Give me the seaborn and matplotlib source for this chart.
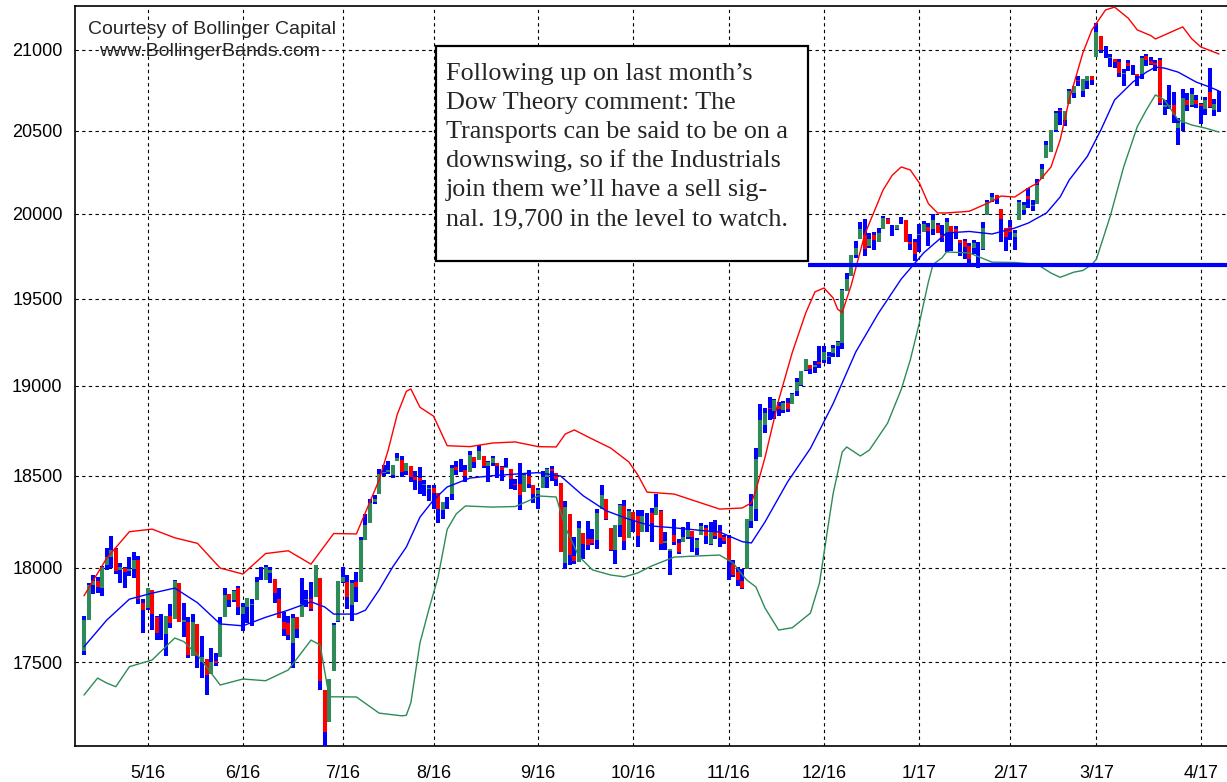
import numpy as np
import pandas as pd
import seaborn as sns
import matplotlib.pyplot as plt
from matplotlib.patches import Rectangle
from matplotlib.ticker import FixedLocator, NullLocator

# Dow Jones Industrials, daily bars 12 Apr 2016 - 7 Apr 2017 (trading day index)
opens = [17556, 17721, 17909, 17926, 17890, 18013, 18059, 18097, 17985, 17996, 17980, 17990, 18039, 17813,
         17783, 17878, 17735, 17665, 17647, 17743, 17726, 17919, 17712, 17711, 17531, 17701, 17501, 17514, 17437,
         17507, 17525, 17735, 17859, 17826, 17892,
         17754, 17790, 17799, 17826, 17937, 17931, 17969, 17938, 17830, 17711, 17703, 17602, 17734, 17736, 17828,
         17832, 17844, 17946, 17355, 17191, 17456, 17713,
         17924, 17925, 17800, 17924, 17925, 18150, 18242, 18353, 18396, 18512, 18517, 18503, 18582, 18583, 18524,
         18555, 18494, 18485, 18450, 18425,
         18434, 18405, 18312, 18355, 18400, 18549, 18530, 18533, 18522, 18602, 18586, 18608, 18554, 18568, 18567,
         18545, 18543, 18535, 18455, 18456, 18409, 18500, 18446,
         18397, 18432, 18492, 18536, 18516, 18458, 18026, 18287, 18061, 18029, 18186, 18152, 18152, 18150, 18317,
         18372, 18213, 18096, 18231, 18331, 18161,
         18300, 18280, 18193, 18270, 18295, 18282, 18308, 18133, 18088, 18177, 18132, 18135, 18164, 18195, 18106,
         18176, 18214, 18129, 18193, 18198, 18162,
         18160, 18018, 17978, 17928, 17994, 18252, 18317, 18604, 18781, 18876, 18858, 18889, 18862, 18905, 18898,
         18971, 19004, 19093, 19122, 19108, 19135,
         19150, 19163, 19187, 19230, 19247, 19545, 19632, 19757, 19853, 19876, 19811, 19874, 19835, 19911, 19969,
         19923, 19909, 19943, 19964, 19835, 19834,
         19872, 19891, 19924, 19907, 19931, 19877, 19887, 19927, 19907, 19846, 19839, 19811, 19796, 19795, 19794,
         19994, 20079, 20111, 20028, 19913,
         19923, 19861, 19964, 20025, 20108, 20049, 20061, 20211, 20338, 20374, 20504, 20627, 20564, 20663, 20731,
         20811, 20744, 20808, 20836,
         20957, 21089, 21009, 20950, 20943, 20927, 20849, 20921, 20884, 20853, 20852, 20965, 20930, 20918, 20936,
         20645, 20651, 20657, 20519, 20547, 20688, 20657, 20690,
         20665, 20633, 20740, 20626, 20658]
highs = [17744, 17918, 17961, 17951, 18009, 18103, 18168, 18107, 18026, 18001, 18058, 18084, 18064, 17830,
         17892, 17878, 17742, 17754, 17744, 17804, 17934, 17919, 17812, 17734, 17755, 17701, 17636, 17514, 17571,
         17550, 17734, 17891, 17860, 17881, 17900,
         17809, 17838, 17833, 17949, 18003, 18016, 18005, 17938, 17892, 17762, 17742, 17754, 17734, 17946, 17878,
         17920, 18011, 17946, 17355, 17412, 17704, 17930,
         18003, 17960, 17933, 17975, 18166, 18287, 18371, 18391, 18537, 18557, 18580, 18560, 18623, 18606, 18571,
         18555, 18525, 18547, 18475, 18446,
         18448, 18405, 18356, 18384, 18559, 18578, 18590, 18560, 18638, 18602, 18668, 18608, 18582, 18609, 18567,
         18551, 18597, 18535, 18482, 18569, 18514, 18533, 18447,
         18429, 18527, 18540, 18552, 18516, 18458, 18358, 18287, 18165, 18250, 18186, 18253, 18209, 18319, 18450,
         18372, 18213, 18229, 18345, 18364, 18319,
         18300, 18312, 18313, 18296, 18320, 18400, 18309, 18193, 18088, 18262, 18155, 18220, 18245, 18197, 18159,
         18241, 18228, 18247, 18254, 18232, 18176,
         18174, 18041, 18004, 17992, 18263, 18400, 18650, 18900, 18874, 18935, 18925, 18908, 18915, 18934, 18960,
         19043, 19084, 19153, 19122, 19144, 19226,
         19225, 19196, 19233, 19256, 19556, 19651, 19757, 19838, 19953, 19967, 19888, 19893, 19917, 19988, 19975,
         19934, 19935, 19981, 19964, 19878, 19852,
         19938, 19957, 19948, 19999, 19944, 19932, 19974, 19927, 19929, 19846, 19852, 19826, 19843, 19834, 19950,
         20082, 20125, 20115, 20028, 19913,
         19964, 19901, 20081, 20069, 20155, 20082, 20206, 20298, 20441, 20504, 20620, 20639, 20624, 20758, 20777,
         20841, 20822, 20838, 20836,
         21169, 21089, 21025, 20972, 20944, 20941, 20883, 20939, 20907, 20853, 20960, 20976, 20956, 20938, 20953,
         20690, 20780, 20737, 20580, 20755, 20734, 20766, 20721,
         20668, 20710, 20888, 20698, 20744]
lows = [17537, 17721, 17858, 17863, 17848, 17984, 17999, 17964, 17919, 17889, 17952, 17944, 17805, 17652,
        17773, 17668, 17613, 17617, 17531, 17676, 17726, 17711, 17633, 17521, 17531, 17469, 17418, 17331, 17437,
        17480, 17525, 17735, 17792, 17817, 17745,
        17664, 17703, 17689, 17826, 17935, 17931, 17915, 17812, 17731, 17635, 17615, 17471, 17624, 17736, 17787,
        17770, 17844, 17356, 17064, 17191, 17456, 17711,
        17916, 17780, 17713, 17816, 17925, 18150, 18242, 18342, 18396, 18495, 18507, 18484, 18582, 18491, 18504,
        18463, 18418, 18401, 18386, 18362,
        18315, 18238, 18264, 18316, 18367, 18501, 18519, 18467, 18522, 18543, 18586, 18542, 18465, 18555, 18489,
        18471, 18543, 18427, 18419, 18310, 18409, 18430, 18349,
        18314, 18432, 18429, 18469, 18441, 18085, 17993, 18016, 18018, 18027, 18045, 18096, 18119, 18102, 18317,
        18254, 18088, 18020, 18166, 18093, 18161,
        18193, 18109, 18193, 18193, 18136, 18282, 18095, 18093, 17960, 18121, 18072, 18135, 18152, 18086, 18067,
        18176, 18129, 18123, 18155, 18108, 18126,
        17932, 17950, 17901, 17884, 17994, 18211, 18252, 18604, 18735, 18808, 18815, 18832, 18845, 18855, 18898,
        18942, 18998, 19084, 19068, 19073, 19100,
        19130, 19124, 19162, 19167, 19209, 19545, 19632, 19741, 19853, 19749, 19800, 19788, 19834, 19911, 19941,
        19868, 19905, 19939, 19834, 19788, 19719,
        19775, 19891, 19811, 19876, 19887, 19835, 19775, 19777, 19853, 19753, 19732, 19697, 19759, 19677, 19787,
        19994, 20068, 20061, 19831, 19782,
        19843, 19785, 19964, 19999, 20037, 20016, 20061, 20211, 20338, 20374, 20496, 20535, 20532, 20663, 20704,
        20778, 20705, 20757, 20785,
        20957, 20981, 20947, 20891, 20886, 20834, 20778, 20870, 20844, 20777, 20821, 20903, 20908, 20868, 20656,
        20596, 20632, 20550, 20413, 20500, 20624, 20646, 20641,
        20545, 20599, 20641, 20593, 20618]
closes = [17721, 17908, 17926, 17897, 18004, 18054, 18096, 17983, 18004, 17977, 17990, 18042, 17831, 17774,
          17891, 17751, 17651, 17661, 17741, 17706, 17928, 17711, 17721, 17535, 17711, 17530, 17527, 17435, 17501,
          17493, 17706, 17852, 17828, 17873, 17787,
          17790, 17839, 17807, 17920, 17938, 18005, 17985, 17865, 17732, 17675, 17640, 17733, 17675, 17805, 17830,
          17781, 18011, 17401, 17140, 17410, 17695, 17930,
          17949, 17841, 17919, 17896, 18147, 18227, 18348, 18372, 18506, 18517, 18533, 18559, 18595, 18517, 18571,
          18493, 18474, 18472, 18456, 18432,
          18405, 18314, 18355, 18352, 18544, 18529, 18533, 18496, 18614, 18576, 18636, 18552, 18574, 18598, 18553,
          18529, 18547, 18481, 18448, 18395, 18503, 18454, 18401,
          18419, 18492, 18538, 18526, 18480, 18085, 18325, 18067, 18035, 18212, 18124, 18120, 18130, 18294, 18392,
          18261, 18095, 18228, 18339, 18143, 18308,
          18254, 18168, 18281, 18269, 18240, 18329, 18129, 18144, 18099, 18138, 18086, 18162, 18203, 18162, 18146,
          18223, 18169, 18199, 18170, 18161, 18142,
          18037, 17960, 17931, 17888, 18260, 18333, 18590, 18808, 18848, 18869, 18923, 18868, 18904, 18868, 18957,
          19024, 19083, 19152, 19098, 19122, 19124,
          19192, 19170, 19216, 19252, 19550, 19615, 19757, 19796, 19911, 19793, 19852, 19843, 19883, 19975, 19942,
          19919, 19934, 19945, 19834, 19820, 19763,
          19882, 19942, 19899, 19964, 19887, 19856, 19954, 19891, 19886, 19827, 19805, 19732, 19827, 19800, 19913,
          20069, 20101, 20094, 19971, 19864,
          19891, 19885, 20071, 20052, 20090, 20054, 20172, 20269, 20412, 20504, 20612, 20620, 20624, 20743, 20776,
          20810, 20822, 20837, 20812,
          21116, 21003, 21006, 20954, 20925, 20856, 20858, 20903, 20881, 20837, 20950, 20935, 20915, 20906, 20668,
          20661, 20657, 20597, 20551, 20702, 20659, 20728, 20663,
          20650, 20689, 20648, 20663, 20656]

# Bollinger bands (day index, value)
upper_day = [0, 5, 10, 15, 20, 25, 30, 35, 40, 45, 50, 55, 60, 65, 67, 69, 71, 72, 74, 77,
             80, 85, 90, 95, 100, 104, 106, 108, 111, 116, 120, 122, 124, 130, 135, 140, 145, 147, 148, 150,
             153, 156, 159, 161, 163, 165, 166, 167, 169, 172, 176, 178, 180, 182, 184, 186, 188, 190, 195, 200,
             202, 205, 208, 210, 213, 215, 217, 220, 222, 225, 227, 230, 232, 235, 236, 239, 242, 244, 246, 250]
upper_band = [17849, 18050, 18193, 18207, 18160, 18130, 17997, 17965, 18075, 18090,
              18018, 18183, 18181, 18475, 18641, 18840, 18970, 18983, 18880, 18830,
              18665, 18660, 18680, 18686, 18660, 18658, 18730, 18753, 18714, 18652,
              18575, 18503, 18409, 18398, 18357, 18316, 18322, 18350, 18420, 18600,
              18920, 19190, 19420, 19540, 19563, 19505, 19440, 19420, 19580, 19880,
              20142, 20230, 20281, 20263, 20184, 20060, 20005, 20005, 20015, 20075,
              20106, 20100, 20154, 20184, 20281, 20444, 20690, 20981, 21126, 21252,
              21270, 21200, 21126, 21090, 21069, 21107, 21145, 21070, 21019, 20975]
mid_day = [0, 5, 10, 15, 20, 25, 30, 35, 40, 45, 50, 53, 55, 60, 62, 65, 68, 71, 74, 77,
           80, 85, 90, 95, 100, 105, 110, 115, 120, 125, 130, 135, 140, 145, 147, 150, 155, 160, 165, 170,
           175, 180, 185, 190, 195, 200, 205, 208, 212, 215, 217, 221, 224, 227, 231, 234, 236, 238, 241, 245,
           248, 250]
mid_band = [17580, 17720, 17831, 17863, 17890, 17812, 17700, 17690, 17735, 17773,
            17817, 17790, 17752, 17752, 17773, 17880, 18003, 18110, 18272, 18366,
            18437, 18486, 18499, 18508, 18516, 18497, 18388, 18307, 18261, 18224,
            18214, 18202, 18191, 18139, 18132, 18246, 18466, 18650, 18900, 19194,
            19417, 19615, 19770, 19886, 19895, 19880, 19915, 19945, 20005, 20100,
            20202, 20345, 20507, 20690, 20800, 20862, 20893, 20887, 20862, 20800,
            20769, 20745]
lower_day = [0, 3, 5, 7, 10, 15, 20, 22, 25, 30, 35, 40, 45, 50, 52, 54, 55, 60, 65, 70,
             71, 72, 74, 76, 78, 80, 82, 84, 90, 95, 98, 100, 104, 106, 109, 112, 116, 119, 122, 125,
             130, 135, 140, 143, 145, 146, 148, 150, 153, 156, 160, 162, 164, 165, 167, 168, 171, 173, 177, 180,
             182, 184, 186, 187, 189, 190, 195, 200, 205, 210, 213, 215, 218, 220, 222, 223, 226, 229, 232, 234,
             236, 238, 241, 244, 247, 250]
lower_band = [17329, 17417, 17391, 17372, 17476, 17511, 17626, 17607, 17537, 17381,
              17412, 17403, 17459, 17615, 17590, 17320, 17320, 17319, 17236, 17222,
              17225, 17290, 17600, 17780, 17950, 18206, 18290, 18333, 18327, 18330,
              18362, 18388, 18382, 18218, 18060, 17987, 17960, 17950, 17971, 18008,
              18056, 18062, 18067, 18024, 17960, 17933, 17896, 17784, 17668, 17680,
              17757, 17917, 18240, 18400, 18630, 18658, 18608, 18641, 18791, 18980,
              19148, 19360, 19600, 19700, 19740, 19774, 19768, 19714, 19712, 19700,
              19650, 19625, 19655, 19665, 19700, 19732, 19982, 20281, 20526, 20629,
              20721, 20690, 20567, 20536, 20517, 20493]

month_labels = ['5/16', '6/16', '7/16', '8/16', '9/16', '10/16', '11/16', '12/16', '1/17', '2/17', '3/17', '4/17']
month_start = [14, 35, 57, 77, 100, 121, 142, 163, 184, 204, 223, 246]
price_ticks = [17500, 18000, 18500, 19000, 19500, 20000, 20500, 21000]
watch_level = 19700

note_lines = ['Following up on last month\u2019s',
              'Dow Theory comment: The',
              'Transports can be said to be on a',
              'downswing, so if the Industrials',
              'join them we\u2019ll have a sell sig-',
              'nal. 19,700 in the level to watch.']

df = pd.DataFrame({'open': opens, 'high': highs, 'low': lows, 'close': closes})
df['day'] = np.arange(len(df))
up = df[df['close'] >= df['open']]
dn = df[df['close'] < df['open']]

sns.set_style('white')
plt.rcParams['font.family'] = ['Liberation Sans', 'DejaVu Sans']

W, H = 1227, 782
fig = plt.figure(figsize=(W / 100, H / 100), dpi=100)
ax = fig.add_axes([75 / W, 36 / H, 1154 / W, 740 / H])

# bars: high-low in blue, open-close body in green / red
ax.vlines(df['day'], df['low'], df['high'], color='#0000ff', lw=2.9, capstyle='butt', zorder=3)
ax.vlines(up['day'], up['open'], up['close'], color='#2e8b57', lw=2.9, capstyle='butt', zorder=4)
ax.vlines(dn['day'], dn['close'], dn['open'], color='#ff0000', lw=2.9, capstyle='butt', zorder=4)

# bands
sns.lineplot(x=upper_day, y=upper_band, color='#ff0000', lw=1, ax=ax, zorder=5)
sns.lineplot(x=mid_day, y=mid_band, color='#0000ff', lw=1, ax=ax, zorder=5)
sns.lineplot(x=lower_day, y=lower_band, color='#2e8b57', lw=1, ax=ax, zorder=5)

ax.hlines(watch_level, 159.5, 260, color='#0000ff', lw=3, zorder=6)

ax.set_yscale('log')
ax.set_xlim(-1.98, 252.2)
ax.set_ylim(17068, 21277)
ax.yaxis.set_major_locator(FixedLocator(price_ticks))
ax.yaxis.set_minor_locator(NullLocator())
ax.set_yticklabels([str(v) for v in price_ticks])
ax.set_xticks(month_start)
ax.set_xticklabels(month_labels)
ax.set_xlabel('')
ax.set_ylabel('')
ax.tick_params(axis='both', length=0, labelsize=13, colors='black')
ax.tick_params(axis='y', pad=9)
ax.tick_params(axis='x', pad=14)
ax.grid(True, color='black', ls=(0, (3, 3)), lw=0.8)
ax.set_axisbelow(True)
for s in ['left', 'bottom', 'top']:
    ax.spines[s].set_color('black')
    ax.spines[s].set_linewidth(1.2)
ax.spines['right'].set_visible(False)

# credit
fig.text(212 / W, 1 - 30 / H, 'Courtesy of Bollinger Capital', ha='center', va='center', fontsize=14)
fig.text(210 / W, 1 - 51 / H, 'www.BollingerBands.com', ha='center', va='center', fontsize=14)

# comment box
fig.add_artist(Rectangle((436 / W, 1 - 261 / H), (808 - 436) / W, (261 - 46) / H,
                         transform=fig.transFigure, facecolor='white', edgecolor='black', lw=1.6, zorder=10))
for k, line in enumerate(note_lines):
    fig.text(446 / W, 1 - (80 + 29 * k) / H, line, ha='left', va='baseline',
             fontsize=18.8, family=['Liberation Serif', 'DejaVu Serif'], zorder=11)

fig.savefig('out.png', dpi=100, facecolor='white')
